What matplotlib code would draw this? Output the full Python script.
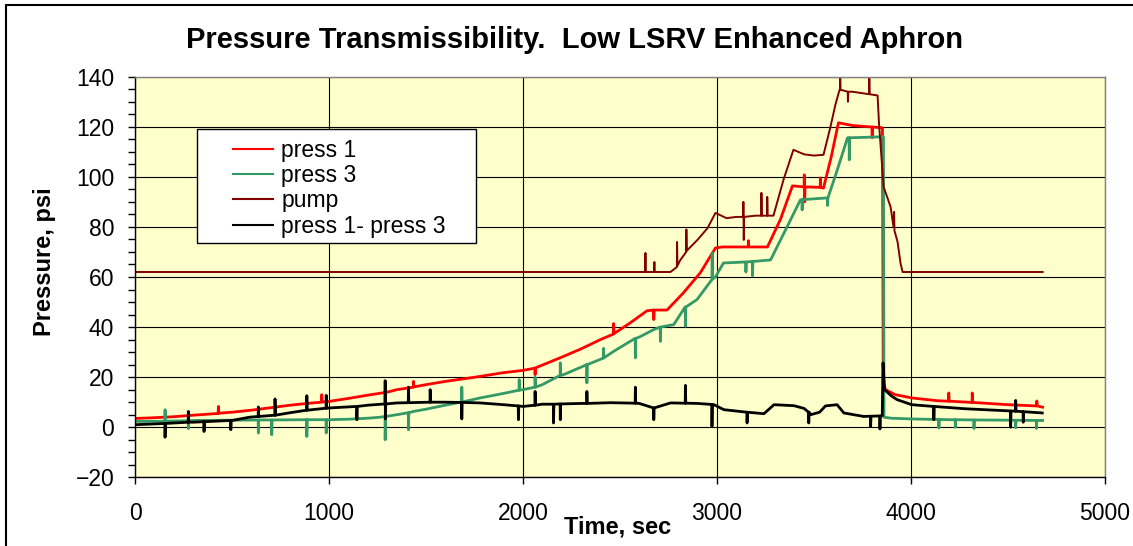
import numpy as np
import matplotlib
matplotlib.use('Agg')
import matplotlib.pyplot as plt
from matplotlib.patches import Rectangle
from matplotlib.ticker import MultipleLocator

plt.rcParams['font.family'] = ['Liberation Sans', 'DejaVu Sans']

# ---- data (time in sec, pressure in psi) ----
# press 1
p1_t = [0, 100, 200, 300, 429, 430, 432, 500, 600, 700, 800, 900,
        962, 963, 965, 1000, 1100, 1200, 1300, 1350, 1435, 1436, 1438,
        1500, 1600, 1700, 1780, 1900, 2000, 2062, 2063, 2065, 2100,
        2210, 2300, 2400, 2467, 2468, 2470, 2550, 2640, 2674, 2675, 2677,
        2743, 2795, 2828, 2915, 2993, 3030, 3100, 3162, 3163, 3165,
        3261, 3328, 3390, 3450, 3451, 3453, 3455, 3533, 3534, 3536,
        3550, 3590, 3627, 3700, 3800, 3801, 3803, 3854, 3858, 3870,
        3920, 4005, 4136, 4195, 4196, 4198, 4316, 4317, 4319, 4360,
        4500, 4649, 4650, 4652, 4680]
p1_v = [3.5, 3.8, 4.2, 4.8, 5.5, 8.3, 5.6, 6.0, 6.8, 7.8, 8.8, 9.6,
        10.0, 13.0, 10.1, 10.3, 11.5, 12.8, 14.0, 15.0, 16.0, 18.3, 16.1,
        17.0, 18.3, 19.4, 20.3, 21.8, 22.7, 23.6, 21.0, 23.7, 24.8,
        28.3, 31.3, 35.0, 37.2, 41.4, 37.4, 41.5, 46.5, 46.8, 43.0, 46.8,
        46.8, 51.0, 53.7, 61.7, 71.6, 72.0, 72.0, 72.0, 74.5, 72.0,
        72.0, 83.0, 96.4, 96.0, 100.8, 90.0, 96.0, 95.8, 99.6, 95.8,
        95.5, 108.0, 121.6, 120.5, 119.9, 115.6, 119.9, 119.6, 18.0, 15.0,
        13.0, 11.7, 10.6, 10.4, 13.7, 10.4, 9.9, 13.7, 9.9, 9.7,
        9.0, 8.5, 10.5, 8.5, 8.0]

# press 3
p3_t = [0, 154, 155, 157, 274, 275, 277, 300, 500, 635, 636, 638,
        704, 705, 707, 885, 886, 888, 985, 986, 988, 1000, 1100, 1200,
        1264, 1289, 1290, 1292, 1350, 1409, 1410, 1412, 1436, 1500, 1600,
        1684, 1685, 1687, 1700, 1780, 1900, 1980, 1981, 1983, 2000,
        2062, 2063, 2065, 2100, 2192, 2193, 2195, 2210, 2300,
        2329, 2330, 2332, 2415, 2416, 2418, 2468, 2579, 2580, 2582,
        2600, 2675, 2708, 2709, 2711, 2778, 2828, 2837, 2838, 2840,
        2898, 2975, 2976, 2978, 2993, 3034, 3149, 3150, 3152,
        3183, 3184, 3186, 3277, 3364, 3431, 3439, 3440, 3442,
        3570, 3571, 3573, 3622, 3674, 3682, 3683, 3685, 3854, 3859, 3862,
        3900, 4005, 4144, 4145, 4147, 4200, 4229, 4230, 4232,
        4325, 4326, 4328, 4540, 4541, 4543, 4647, 4648, 4650, 4680]
p3_v = [2.3, 2.4, 7.0, 2.4, 2.6, -0.5, 2.6, 2.7, 2.8, 2.9, -2.3, 2.9,
        2.9, -3.0, 2.9, 3.0, -3.7, 3.0, 3.0, -2.3, 3.0, 3.0, 3.2, 3.6,
        4.0, 4.3, -5.0, 4.3, 5.0, 5.8, -1.0, 5.8, 6.3, 7.2, 8.8,
        10.1, 16.0, 10.1, 10.3, 11.7, 13.5, 14.8, 19.0, 14.8, 15.0,
        16.0, 20.0, 16.0, 17.0, 20.7, 25.7, 20.7, 21.0, 24.0,
        25.0, 17.7, 25.0, 27.6, 31.5, 27.7, 30.3, 35.5, 27.7, 35.5,
        36.0, 39.0, 40.0, 34.3, 40.0, 41.0, 47.0, 48.0, 40.3, 48.0,
        51.0, 59.0, 69.6, 59.2, 60.0, 65.6, 66.0, 62.0, 66.0,
        66.2, 60.5, 66.2, 66.8, 80.3, 90.8, 90.9, 86.8, 90.9,
        91.6, 88.6, 91.6, 103.0, 115.6, 115.6, 106.8, 115.6, 116.0, 116.0, 4.0,
        3.6, 3.3, 3.1, -0.3, 3.1, 3.0, 3.0, 0.0, 3.0,
        2.9, -0.5, 2.9, 2.8, -0.2, 2.8, 2.7, -0.5, 2.7, 2.7]

# pump
pump_t = [0, 2630, 2632, 2634, 2676, 2678, 2680, 2761, 2794, 2795, 2797,
          2812, 2842, 2843, 2845, 2900, 2952, 2993, 3050, 3100,
          3136, 3137, 3139, 3141, 3200, 3229, 3230, 3232, 3259, 3260, 3262,
          3292, 3344, 3395, 3450, 3500, 3550, 3586, 3612, 3633,
          3635, 3636, 3638, 3675, 3676, 3678, 3700, 3785, 3786, 3788,
          3829, 3836, 3860, 3896, 3911, 3914, 3916, 3932, 3947, 3958, 4680]
pump_v = [62, 62, 69.6, 62, 62, 66, 62, 62, 64, 74, 64.5,
          66.8, 70, 79, 70.5, 74.8, 79.5, 85.6, 83.5, 84,
          84, 90, 74.8, 84, 84.5, 84.5, 93.6, 84.5, 84.5, 92, 84.5,
          84.5, 98.9, 110.8, 109, 108.5, 108.8, 120, 129, 134.8,
          134.8, 142, 134.8, 134, 130, 134, 134, 133, 142, 133,
          132.5, 121.6, 96, 88, 80, 86, 78.5, 74, 65.6, 62, 62]

# press 1 - press 3
dp_t = [0, 154, 155, 157, 274, 275, 277, 300, 355, 356, 358,
        493, 494, 496, 500, 590, 635, 636, 638, 721, 722, 724, 800,
        885, 886, 888, 985, 986, 988, 1000, 1143, 1144, 1146, 1200,
        1289, 1290, 1291, 1293, 1350, 1409, 1410, 1412, 1521, 1522, 1524,
        1600, 1684, 1685, 1687, 1780, 1900, 1976, 1977, 1979, 2000,
        2062, 2063, 2065, 2100, 2157, 2158, 2160, 2192, 2193, 2195, 2300,
        2329, 2330, 2332, 2450, 2579, 2580, 2582, 2600, 2674, 2675, 2677,
        2761, 2837, 2838, 2840, 2900, 2974, 2975, 2977, 2985, 3037,
        3155, 3156, 3158, 3243, 3295, 3398, 3450, 3473, 3474, 3476,
        3484, 3530, 3560, 3620, 3655, 3758, 3792, 3793, 3795,
        3840, 3841, 3843, 3853, 3857, 3865, 3900, 3930, 4005,
        4118, 4119, 4121, 4275, 4514, 4515, 4517, 4540, 4541, 4543,
        4579, 4580, 4582, 4678]
dp_v = [1.0, 1.5, -4.0, 1.5, 2.0, 6.3, 2.0, 2.0, 2.2, -1.7, 2.2,
        2.7, -1.0, 2.7, 2.7, 4.0, 4.3, 8.1, 4.3, 4.8, 11.3, 4.8, 5.8,
        6.8, 12.6, 6.8, 7.6, 12.7, 7.6, 7.7, 8.3, 3.0, 8.3, 8.8,
        9.3, 18.6, 3.3, 9.3, 9.7, 9.8, 16.0, 9.8, 10.0, 15.0, 10.0,
        10.0, 9.9, 3.3, 9.9, 9.7, 9.0, 8.5, 3.0, 8.5, 8.3,
        8.8, 14.3, 8.8, 9.2, 9.2, 1.7, 9.2, 9.3, 3.0, 9.3, 9.5,
        9.5, 14.3, 9.5, 9.8, 9.6, 16.0, 9.6, 9.5, 7.7, 3.0, 7.7,
        9.7, 9.6, 16.7, 9.6, 9.5, 9.1, 0.3, 9.1, 9.0, 7.0,
        6.0, 1.7, 6.0, 5.4, 9.0, 8.6, 7.5, 6.0, 1.7, 6.0,
        5.0, 6.0, 8.5, 9.0, 5.7, 4.3, 4.4, 0.3, 4.4,
        4.5, -0.7, 4.5, 4.6, 25.7, 15.0, 12.5, 11.0, 9.0,
        8.3, 3.0, 8.3, 7.4, 6.5, 0.0, 6.5, 6.4, 10.7, 6.4,
        6.2, 2.0, 6.2, 5.7]

labels = ['press 1', 'press 3', 'pump', 'press 1- press 3']

W, H = 1133, 546
fig = plt.figure(figsize=(W / 100, H / 100), dpi=100)
fig.patch.set_facecolor('white')

ax = fig.add_axes([135 / W, 1 - 477.3 / H, (1104.7 - 135) / W, (477.3 - 76.7) / H])
ax.set_facecolor('#FFFFCC')

# series drawn in Excel order (later on top)
l1, = ax.plot(p1_t, p1_v, color='#FF0000', lw=2.0)
l3, = ax.plot(p3_t, p3_v, color='#339966', lw=2.0)
lp, = ax.plot(pump_t, pump_v, color='#800000', lw=1.4)
ld, = ax.plot(dp_t, dp_v, color='#000000', lw=2.0)

ax.set_xlim(0, 5000)
ax.set_ylim(-20, 140)
ax.xaxis.set_major_locator(MultipleLocator(1000))
ax.yaxis.set_major_locator(MultipleLocator(20))
ax.yaxis.set_minor_locator(MultipleLocator(5))
ax.grid(True, which='major', color='black', lw=0.8)
ax.set_axisbelow(True)
ax.tick_params(axis='both', which='both', direction='out', length=5, width=1,
               labelsize=16.5, colors='black')
ax.tick_params(axis='y', which='major', pad=10)
ax.tick_params(axis='x', which='major', pad=13)
ax.tick_params(axis='x', which='minor', length=0)

for s in ['left', 'bottom']:
    ax.spines[s].set_color('black')
    ax.spines[s].set_linewidth(1)
for s in ['top', 'right']:
    ax.spines[s].set_color('#808080')
    ax.spines[s].set_linewidth(1)

# legend box (Excel style, fixed frame)
ax.add_patch(Rectangle((0.0636, 0.5841), 0.2877, 0.2846, transform=ax.transAxes,
                       facecolor='white', edgecolor='black', lw=1, zorder=5))
leg = ax.legend([l1, l3, lp, ld], labels, loc='upper left',
                bbox_to_anchor=(0.101, 0.845), frameon=False, fontsize=16.5,
                handlelength=1.75, handletextpad=0.35, labelspacing=0.1,
                borderpad=0, borderaxespad=0)
for line in leg.get_lines():
    line.set_linewidth(1.5)
leg.set_zorder(6)

fig.text(575 / W, 1 - 40 / H, 'Pressure Transmissibility.  Low LSRV Enhanced Aphron',
         ha='center', va='center', fontsize=21, fontweight='bold')
fig.text(618 / W, 1 - 527 / H, 'Time, sec', ha='center', va='center',
         fontsize=17, fontweight='bold')
fig.text(45 / W, 1 - 262 / H, 'Pressure, psi', ha='center', va='center',
         rotation=90, fontsize=17, fontweight='bold')

# outer chart border (runs off the right and bottom edges)
fig.patches.append(Rectangle((6 / W, -0.1), 1.2, 1.1 - 4.5 / H, transform=fig.transFigure,
                             fill=False, edgecolor='black', lw=1.5))

fig.savefig('out.png', dpi=100)
